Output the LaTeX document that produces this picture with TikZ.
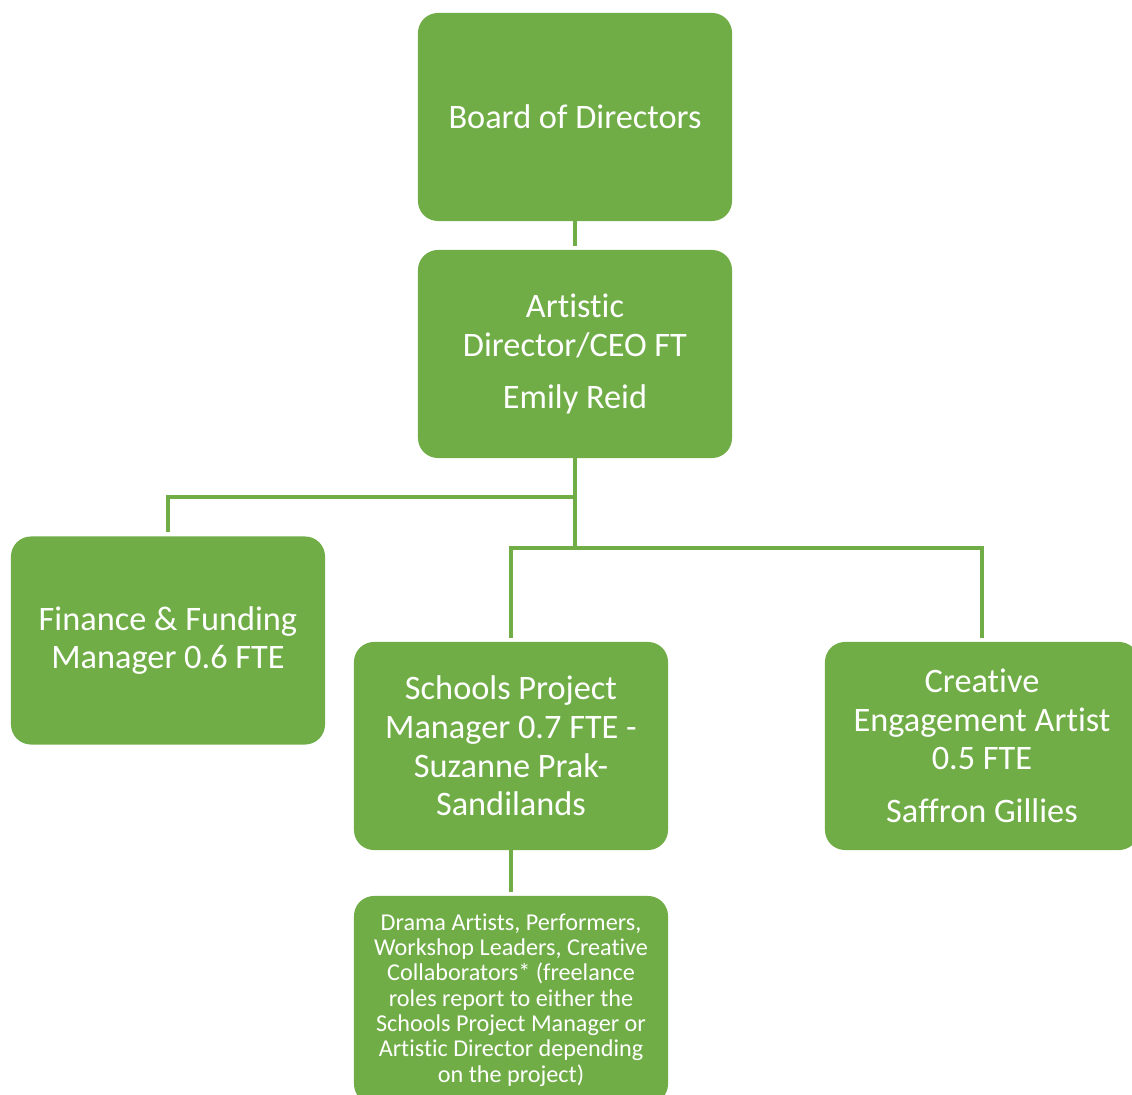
\documentclass[tikz,border=0pt]{standalone}
\usepackage{fontspec}
\setmainfont{Carlito}[RawFeature={-liga;-clig;-calt;-dlig}]
\usetikzlibrary{positioning}
\definecolor{officegreen}{HTML}{70AD47}

\tikzset{
  rolebox/.style={fill=officegreen, rounded corners=0.5cm, minimum width=7.85cm, minimum height=5.2cm,
    text=white, align=center, inner sep=0pt, font=\fontsize{24.4}{27.4}\selectfont},
  crewbox/.style={rolebox, font=\fontsize{17.2}{18}\selectfont},
  link/.style={officegreen, line width=2.4pt, shorten >=0.1cm}
}

\begin{document}
\begin{tikzpicture}[x=0.025cm, y=-0.025cm]
  % Page frame
  \useasboundingbox (0,0) rectangle (1132,1095);

  % Top of the chart
  \node[rolebox] (board) at (575,117) {Board of Directors};
  \node[rolebox] (director) at (575,354) {Artistic\\Director/CEO FT\\[10pt]Emily Reid};

  % Staff row
  \node[rolebox] (finance) at (168,640.5) {Finance \& Funding\\Manager 0.6 FTE};
  \node[rolebox] (schools) at (511,746) {Schools Project\\Manager 0.7 FTE -\\Suzanne Prak-\\Sandilands};
  \node[rolebox] (creative) at (982,746) {Creative\\Engagement Artist\\0.5 FTE\\[10pt]Saffron Gillies};

  % Freelancers
  \node[crewbox] (freelance) at (511,1000) {Drama Artists, Performers,\\Workshop Leaders, Creative\\Collaborators* (freelance\\roles report to either the\\Schools Project Manager or\\Artistic Director depending\\on the project)};

  % Branch points
  \coordinate (upperbus) at (575,497);
  \coordinate (lowerbus) at (575,548);

  % Connectors
  \draw[link] (board) -- (director);
  \draw[link, shorten >=0pt] (director.south) -- (lowerbus);
  \draw[link] (upperbus) -| (finance.north);
  \draw[link] (lowerbus) -| (schools.north);
  \draw[link] (lowerbus) -| (creative.north);
  \draw[link] (schools) -- (freelance);
\end{tikzpicture}
\end{document}
